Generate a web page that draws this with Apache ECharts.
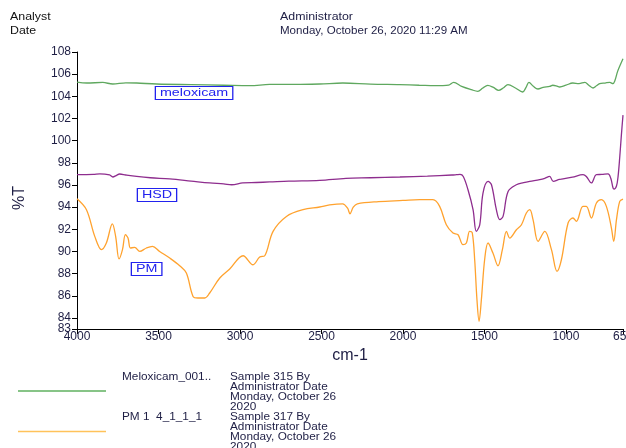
<!DOCTYPE html>
<html>
<head>
<meta charset="utf-8">
<script src="https://cdn.jsdelivr.net/npm/echarts@6/dist/echarts.min.js"></script>
<style>
html,body{margin:0;padding:0;background:#fff;}
#c{width:626px;height:448px;}
</style>
</head>
<body>
<div id="c"></div>
<script>
// ---- data (wavenumber cm-1, %T) ----
var xTicks = [4000, 3500, 3000, 2500, 2000, 1500, 1000, 650];
var yTicks = [84, 86, 88, 90, 92, 94, 96, 98, 100, 102, 104, 106, 108];
var yMinTick = [83];

var meloxicamW = [4000,3940,3842,3781,3700,3634,3511,3300,3100,2940,2818,2650,2511,2369,2200,2019,1900,1755,1720,1689,1640,1580,1541,1510,1480,1445,1413,1385,1356,1310,1266,1245,1227,1200,1172,1140,1100,1081,1060,1038,1000,958,920,884,860,834,813,793,760,731,712,700,683,665,650];
var meloxicamT = [105.29,105.2,105.25,105.11,105.22,105.2,105.11,105.05,105.0,104.96,105.07,105.08,105.11,105.2,105.1,105.05,105.0,104.96,105.0,105.26,104.9,104.6,104.45,104.75,104.99,104.8,104.53,104.75,105.05,104.75,104.39,104.8,105.26,104.9,104.66,104.8,104.9,105.0,104.95,104.84,105.0,105.2,105.15,105.26,105.0,104.75,104.95,105.14,105.2,105.26,105.14,105.4,106.25,106.9,107.4];

var hsdW = [4000,3900,3860,3800,3780,3760,3738,3700,3634,3550,3431,3300,3186,3100,3051,2983,2900,2818,2700,2511,2350,2200,2019,1850,1700,1670,1650,1630,1601,1570,1550,1529,1509,1478,1457,1427,1406,1386,1355,1304,1260,1222,1161,1130,1100,1078,1040,1018,960,895,875,844,813,780,742,725,711,705,690,680,670,660,650];
var hsdT = [96.93,96.95,97.0,96.9,96.72,96.85,96.99,96.9,96.77,96.65,96.54,96.35,96.18,96.1,96.02,96.18,96.22,96.27,96.35,96.42,96.6,96.65,96.72,96.8,96.9,96.93,96.95,96.77,95.57,93.77,91.81,92.4,95.27,96.32,96.02,93.77,92.87,93.16,95.42,96.02,96.2,96.32,96.48,96.6,96.77,96.32,96.5,96.54,96.7,96.93,96.77,96.18,96.93,96.95,97.0,96.6,95.72,95.63,95.9,96.8,98.5,100.5,102.3];

var pmW = [4000,3942,3891,3850,3820,3783,3763,3742,3721,3703,3687,3672,3646,3615,3574,3537,3493,3431,3370,3329,3288,3258,3216,3186,3124,3063,2981,2920,2879,2848,2797,2715,2613,2511,2450,2370,2340,2325,2305,2280,2150,2000,1897,1816,1775,1734,1693,1662,1632,1611,1591,1575,1560,1546,1533,1519,1499,1478,1448,1417,1390,1365,1345,1304,1273,1243,1222,1202,1171,1130,1089,1055,1028,987,957,936,896,875,844,813,783,752,721,707,690,670,650];
var pmT = [94.76,93.77,91.36,90.16,90.76,92.48,91.36,89.32,90.16,91.52,91.21,90.31,90.37,90.0,90.31,90.46,90.0,89.4,88.71,88.05,85.94,85.8,85.8,86.25,87.6,88.41,89.61,88.8,89.5,89.61,91.81,93.16,93.77,94.01,94.2,94.3,93.9,93.4,94.0,94.3,94.5,94.6,94.67,94.67,94.07,92.41,91.66,91.51,90.61,90.76,91.81,91.7,89.25,85.64,83.69,85.64,89.25,90.76,89.86,88.71,90.16,91.81,91.21,91.96,92.41,93.47,93.77,92.87,90.91,91.81,90.16,88.2,89.25,92.57,93.02,92.72,94.07,94.07,93.02,94.37,94.67,94.07,92.11,90.91,92.87,94.52,94.73];

var seriesNames = ['meloxicam', 'HSD', 'PM'];
var legendRows = [
  ['Meloxicam_001..', 'Sample 315 By\nAdministrator Date\nMonday, October 26\n2020'],
  ['PM 1  4_1_1_1', 'Sample 317 By\nAdministrator Date\nMonday, October 26\n2020']
];
var headerLabels = ['Analyst', 'Date'];
var headerValues = ['Administrator', 'Monday, October 26, 2020 11:29 AM'];

function pairs(w, t) { return w.map(function (v, i) { return [v, t[i]]; }); }

var FONT = 'Liberation Sans, Arial, sans-serif';
var TXT = '#1e1e44';
var Y_MIN = 83, Y_MAX = 108;

function txt(x, y, s, opts) {
  opts = opts || {};
  return {
    type: 'text', x: x, y: y, scaleX: opts.sx || 1.18, rotation: opts.rot || 0,
    style: {
      text: s, fill: opts.fill || TXT,
      font: (opts.weight || '') + ' ' + (opts.size || 10) + 'px ' + FONT,
      textVerticalAlign: 'middle', lineHeight: opts.lh || 10,
      backgroundColor: opts.bg, borderColor: opts.bc, borderWidth: opts.bw || 0,
      padding: opts.pad
    }
  };
}

var chart = echarts.init(document.getElementById('c'), null, { renderer: 'canvas' });

var boxOpts = { fill: '#2222ee', bg: '#fff', bc: '#2222ee', bw: 1, pad: [2, 3, 0, 3], size: 11, sx: 1.3 };
var graphics = [
  txt(10, 17, headerLabels[0], { fill: '#111', size: 10.5 }),
  txt(10, 31, headerLabels[1], { fill: '#111', size: 10.5 }),
  txt(280, 17, headerValues[0], { size: 10.5 }),
  txt(280, 31, headerValues[1], { sx: 1.1, size: 10.5 }),
  { type: 'text', x: 20, y: 198, rotation: Math.PI / 2,
    style: { text: '%T', fill: TXT, font: '16px ' + FONT, textAlign: 'center', textVerticalAlign: 'middle' } },
  // annotation boxes
  txt(156, 93, seriesNames[0], boxOpts),
  txt(138, 195, seriesNames[1], boxOpts),
  txt(132, 269, seriesNames[2], boxOpts),
  // legend
  { type: 'line', shape: { x1: 18, y1: 391, x2: 106, y2: 391 }, style: { stroke: '#5fb05f', lineWidth: 1.5 } },
  { type: 'line', shape: { x1: 18, y1: 431.5, x2: 106, y2: 431.5 }, style: { stroke: '#ffc25a', lineWidth: 1.5 } },
  txt(122, 377, legendRows[0][0]),
  { type: 'text', x: 230, y: 372, scaleX: 1.18, style: { text: legendRows[0][1], fill: TXT, font: '10px ' + FONT, lineHeight: 10 } },
  txt(122, 417, legendRows[1][0]),
  { type: 'text', x: 230, y: 412, scaleX: 1.18, style: { text: legendRows[1][1], fill: TXT, font: '10px ' + FONT, lineHeight: 10 } }
];

function plain(v) { return String(v); }

function yAxisDef(ticks, showLine) {
  return {
    type: 'value', min: Y_MIN, max: Y_MAX, position: 'left',
    axisLine: { show: showLine, onZero: false, lineStyle: { color: '#000', width: 1 } },
    axisTick: { show: true, length: 5, customValues: ticks, lineStyle: { color: '#000' } },
    axisLabel: { customValues: ticks, formatter: plain, margin: 6, fontFamily: FONT, fontSize: 12,
      color: TXT, showMinLabel: true, showMaxLabel: true },
    splitLine: { show: false }
  };
}

chart.setOption({
  animation: false,
  backgroundColor: '#fff',
  grid: { left: 77, right: 3, top: 52, bottom: 119, containLabel: false, outerBoundsMode: 'none' },
  xAxis: {
    type: 'value', inverse: true, min: 650, max: 4000,
    name: 'cm-1', nameLocation: 'middle', nameGap: 19,
    nameTextStyle: { fontFamily: FONT, fontSize: 16, color: TXT },
    axisLine: { show: true, onZero: false, lineStyle: { color: '#000', width: 1 } },
    axisTick: { show: true, length: 5, customValues: xTicks, lineStyle: { color: '#000' } },
    axisLabel: { customValues: xTicks, formatter: plain, margin: 2, fontFamily: FONT, fontSize: 12, color: TXT,
      showMinLabel: true, showMaxLabel: true, alignMinLabel: 'center', alignMaxLabel: 'center' },
    splitLine: { show: false }
  },
  yAxis: [yAxisDef(yTicks, true), yAxisDef(yMinTick, false)],
  graphic: graphics,
  series: [
    { name: seriesNames[0], type: 'line', data: pairs(meloxicamW, meloxicamT), showSymbol: false, smooth: 0.35,
      lineStyle: { color: '#5fa85f', width: 1.3 }, itemStyle: { color: '#5fa85f' } },
    { name: seriesNames[1], type: 'line', data: pairs(hsdW, hsdT), showSymbol: false, smooth: 0.35,
      lineStyle: { color: '#8e2d8e', width: 1.3 }, itemStyle: { color: '#8e2d8e' } },
    { name: seriesNames[2], type: 'line', data: pairs(pmW, pmT), showSymbol: false, smooth: 0.35,
      lineStyle: { color: '#ffa22e', width: 1.3 }, itemStyle: { color: '#ffa22e' } }
  ]
});
</script>
</body>
</html>
